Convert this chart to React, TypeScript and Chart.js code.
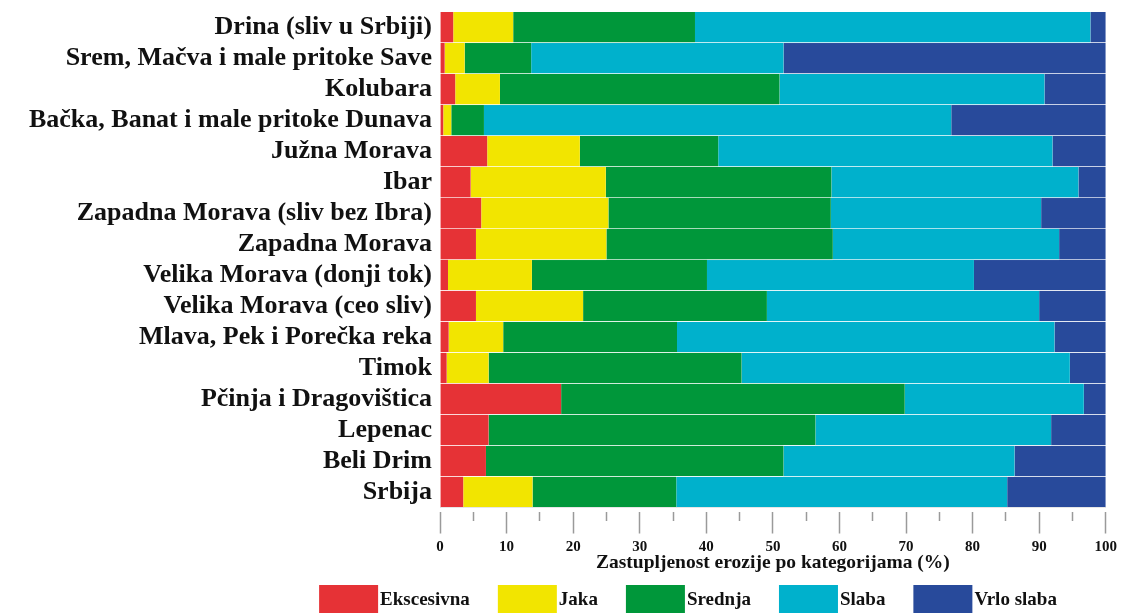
import React, { useEffect, useRef } from "react";
import { Chart, registerables } from "chart.js";

Chart.register(...registerables);

const categories = [
  "Drina (sliv u Srbiji)",
  "Srem, Mačva i male pritoke Save",
  "Kolubara",
  "Bačka, Banat i male pritoke Dunava",
  "Južna Morava",
  "Ibar",
  "Zapadna Morava (sliv bez Ibra)",
  "Zapadna Morava",
  "Velika Morava (donji tok)",
  "Velika Morava (ceo sliv)",
  "Mlava, Pek i Porečka reka",
  "Timok",
  "Pčinja i Dragovištica",
  "Lepenac",
  "Beli Drim",
  "Srbija",
];

const ekscesivna = [2.0, 0.7, 2.3, 0.5, 7.1, 4.6, 6.2, 5.4, 1.2, 5.4, 1.3, 1.0, 18.2, 7.3, 6.9, 3.5];
const jaka = [9.0, 3.0, 6.7, 1.2, 13.9, 20.3, 19.1, 19.6, 12.6, 16.1, 8.2, 6.3, 0, 0, 0, 10.4];
const srednja = [27.3, 10.0, 42.0, 4.9, 20.8, 33.9, 33.4, 34.0, 26.3, 27.6, 26.1, 38.0, 51.6, 49.1, 44.7, 21.6];
const slaba = [59.4, 37.9, 39.8, 70.2, 50.2, 37.1, 31.6, 34.0, 40.1, 40.9, 56.7, 49.3, 26.9, 35.4, 34.7, 49.7];
const vrloSlaba = [2.3, 48.4, 9.2, 23.2, 8.0, 4.1, 9.7, 7.0, 19.8, 10.0, 7.7, 5.4, 3.3, 8.2, 13.7, 14.8];

const seriesNames = ["Ekscesivna", "Jaka", "Srednja", "Slaba", "Vrlo slaba"];
const seriesColors = ["#E63236", "#F2E500", "#00973A", "#00B1CC", "#284A9B"];

const axisTitle = "Zastupljenost erozije po kategorijama (%)";

const FONT = "'Liberation Serif', 'Times New Roman', serif";

const legendPlugin = {
  id: "customLegend",
  afterDraw(chart: any, _args: any, opts: any) {
    const ctx = chart.ctx;
    const boxW = opts.boxWidth;
    const boxH = opts.boxHeight;
    const gap = opts.textGap;
    const spacing = opts.spacing;
    ctx.save();
    ctx.font = `bold ${opts.fontSize}px ${FONT}`;
    const items = chart.data.datasets.map((ds: any) => ({
      label: ds.label,
      color: ds.backgroundColor,
      w: boxW + gap + ctx.measureText(ds.label).width,
    }));
    const total = items.reduce((s: number, it: any) => s + it.w, 0) + spacing * (items.length - 1);
    let x = opts.centerX - total / 2;
    const y = chart.height - opts.bottom - boxH;
    ctx.textBaseline = "middle";
    ctx.textAlign = "left";
    for (const it of items) {
      ctx.fillStyle = it.color;
      ctx.fillRect(x, y, boxW, boxH);
      ctx.fillStyle = "#111";
      ctx.fillText(it.label, x + boxW + gap, y + boxH / 2 + 1);
      x += it.w + spacing;
    }
    ctx.restore();
  },
};

export default function App() {
  const ref = useRef<HTMLCanvasElement | null>(null);

  useEffect(() => {
    document.body.style.margin = "0";
    const values = [ekscesivna, jaka, srednja, slaba, vrloSlaba];
    const chart = new Chart(ref.current as HTMLCanvasElement, {
      type: "bar",
      data: {
        labels: categories,
        datasets: seriesNames.map((name, i) => ({
          label: name,
          data: values[i],
          backgroundColor: seriesColors[i],
          borderColor: "rgba(255,255,255,0.5)",
          borderWidth: { top: 0, left: 0, right: 0, bottom: 1 },
          borderSkipped: false,
          barPercentage: 1,
          categoryPercentage: 1,
        })),
      },
      options: {
        indexAxis: "y",
        responsive: false,
        animation: false,
        layout: { padding: { top: 12, right: 16, bottom: 40, left: 0 } },
        plugins: {
          legend: { display: false },
          tooltip: { enabled: false },
          customLegend: {
            boxWidth: 59,
            boxHeight: 28,
            textGap: 2,
            spacing: 28,
            fontSize: 19,
            centerX: 688,
            bottom: 2,
          },
        } as any,
        scales: {
          x: {
            stacked: true,
            min: 0,
            max: 100,
            ticks: {
              stepSize: 5,
              autoSkip: false,
              maxRotation: 0,
              padding: 5,
              color: "#111",
              font: { family: FONT, size: 15, weight: "bold" },
              callback: (v: any) => (Number(v) % 10 === 0 ? String(v) : ""),
            },
            grid: {
              drawOnChartArea: false,
              drawTicks: true,
              tickLength: 26,
              tickWidth: 1.5,
              tickColor: "#9a9a9a",
              tickBorderDash: (c: any) =>
                c.tick && c.tick.value % 10 !== 0 ? [0, 4, 9, 100] : [0, 4, 22, 100],
            } as any,
            border: { display: true, color: "#dedede", width: 1 },
            title: {
              display: true,
              text: axisTitle,
              color: "#111",
              font: { family: FONT, size: 19.5, weight: "bold" },
              padding: { top: -10, bottom: 0 },
            },
          },
          y: {
            stacked: true,
            afterFit: (scale: any) => {
              scale.width = 440;
              scale.paddingTop = 0;
              scale.paddingBottom = 0;
            },
            ticks: {
              autoSkip: false,
              padding: 8,
              color: "#111",
              font: { family: FONT, size: 26, weight: "bold" },
            },
            grid: { display: false, drawTicks: false },
            border: { display: false },
          },
        },
      },
      plugins: [legendPlugin],
    });
    return () => chart.destroy();
  }, []);

  return (
    <div style={{ position: "fixed", left: 0, top: 0, width: 1122, height: 615, background: "#fff" }}>
      <canvas ref={ref} width={1122} height={615} />
    </div>
  );
}
